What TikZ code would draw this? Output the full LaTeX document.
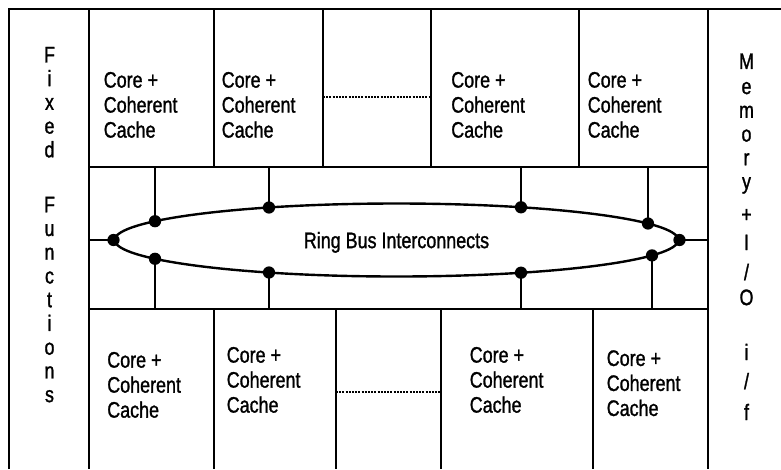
\documentclass[tikz,border=0pt]{standalone}
\usepackage{fontspec}
\setmainfont{Liberation Sans}[FakeStretch=0.8, FakeBold=1.2]
\usetikzlibrary{shapes.geometric}

\tikzset{
  edgeline/.style={line width=2pt},
  wall/.style={line width=1.8pt},
  gapline/.style={line width=1.5pt, dash pattern=on 1.5pt off 0.9pt},
  busring/.style={ellipse, draw, line width=1.8pt, minimum width=422.7pt, minimum height=54.75pt,
    inner sep=0pt, text depth=0pt, font=\fontsize{16.8}{18}\selectfont},
  celltext/.style={anchor=north west, align=left, inner sep=0pt, font=\fontsize{16.8}{18.75}\selectfont},
  sidetext/.style={anchor=north, align=center, inner sep=0pt, font=\fontsize{16.8}{17.8}\selectfont}
}

\begin{document}
\begin{tikzpicture}[x=0.75pt, y=-0.75pt]
\useasboundingbox (0,0) rectangle (781,469);

% 网格坐标
\coordinate (rowtop) at (0,167);
\coordinate (rowbot) at (0,309);
\coordinate (colL) at (89,0);
\coordinate (colR) at (708,0);

% 外框与分隔线
\draw[edgeline] (9,469) -- (9,9) -- (781,9);
\draw[wall] (89,9) -- (89,469);
\draw[wall] (708,9) -- (708,469);
\draw[wall] (89,167) -- (708,167);
\draw[wall] (89,309) -- (708,309);
\foreach \x in {214,323,431,579}
    \draw[wall] (\x,9) -- (\x,167);
\foreach \x in {214,336,441,593}
    \draw[wall] (\x,309) -- (\x,469);

% 省略的核心
\draw[gapline] (323,96.7) -- (431,96.7);
\draw[gapline] (336,392) -- (441,392);

% 环形总线
\node[busring] (ring) at (396.5,240) {Ring Bus Interconnects};

% 总线上的连接点
\coordinate (t1) at (155,221.2);
\coordinate (t2) at (269,207.5);
\coordinate (t3) at (521,207.3);
\coordinate (t4) at (648,223.5);
\coordinate (b1) at (155,258.8);
\coordinate (b2) at (269,272.5);
\coordinate (b3) at (521,272.7);
\coordinate (b4) at (652,255.4);

% 连线
\draw[wall] (colL |- ring.west) -- (ring.west);
\draw[wall] (ring.east) -- (colR |- ring.east);
\foreach \p in {t1,t2,t3,t4}
    \draw[wall] (\p) -- (\p |- rowtop);
\foreach \p in {b1,b2,b3,b4}
    \draw[wall] (\p) -- (\p |- rowbot);

% 实心圆点
\foreach \point in {t1,t2,t3,t4,b1,b2,b3,b4,ring.west,ring.east}
    \fill (\point) circle (4.6pt);

% 核心文字
\node[celltext] (ct1) at (103.5,71.7) {Core +\\Coherent\\Cache};
\node[celltext] (ct2) at (221.5,71.7) {Core +\\Coherent\\Cache};
\node[celltext] (ct3) at (451,71.7) {Core +\\Coherent\\Cache};
\node[celltext] (ct4) at (587.5,71.7) {Core +\\Coherent\\Cache};
\node[celltext] (cb1) at (107,351.7) {Core +\\Coherent\\Cache};
\node[celltext] (cb2) at (226.5,346.7) {Core +\\Coherent\\Cache};
\node[celltext] (cb3) at (469.5,346.7) {Core +\\Coherent\\Cache};
\node[celltext] (cb4) at (606.5,350) {Core +\\Coherent\\Cache};

% 两侧竖排文字
\node[sidetext] (fixed) at (49.5,46.7)
    {F\\i\\x\\e\\d\\[23.4pt]F\\u\\n\\c\\t\\i\\o\\n\\s};
\node[sidetext] (memio) at (746.5,53.3)
    {M\\[1pt]e\\m\\o\\r\\y\\[7pt]+\\[3.2pt]I\\[4.7pt]/\\[1pt]O\\[23.4pt]i\\[4pt]/\\[5.4pt]f};
\end{tikzpicture}
\end{document}
